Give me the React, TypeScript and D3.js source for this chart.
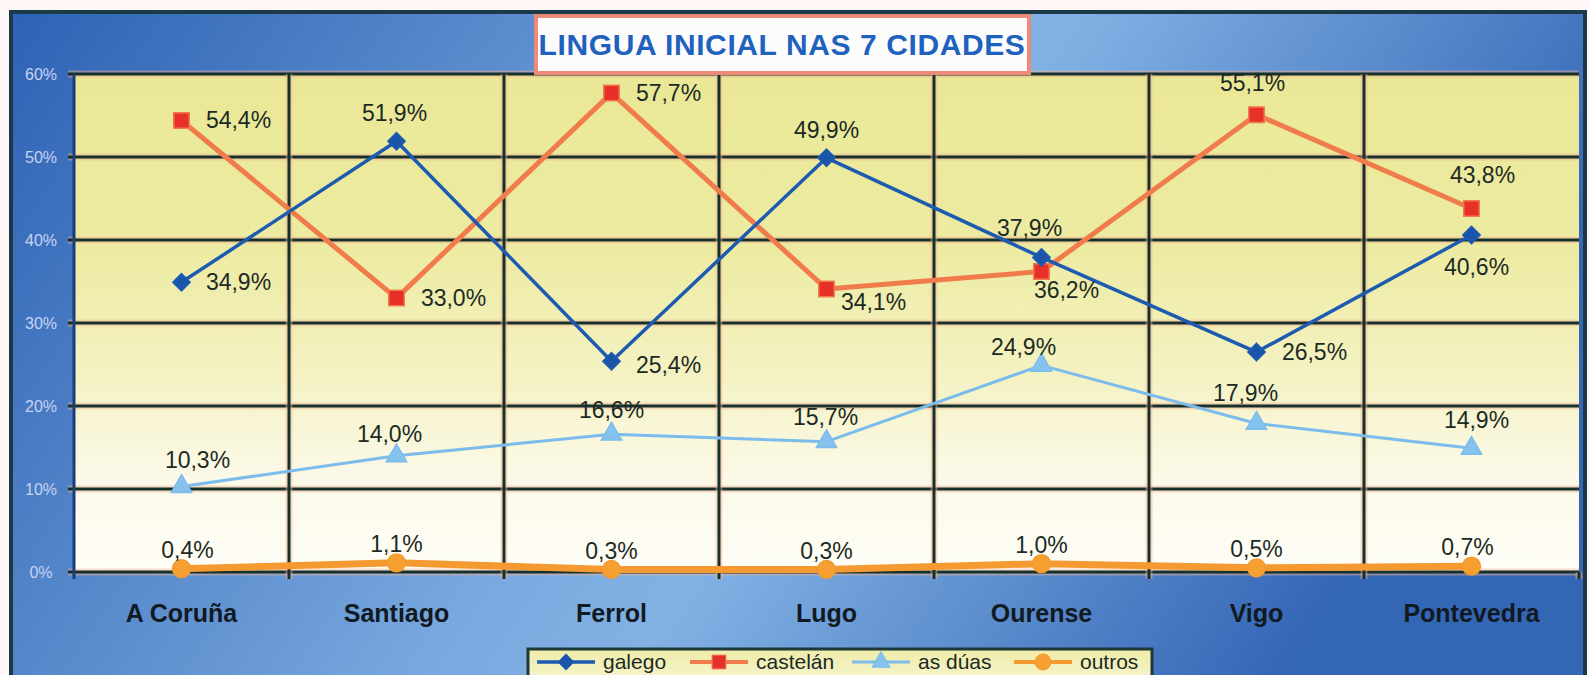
import * as d3 from 'd3'
import { useRef, useEffect } from 'react'

const W = 1590, H = 675
const M = { top: 74, right: 11, bottom: 103, left: 74 }

const CITIES = ['A Coruña', 'Santiago', 'Ferrol', 'Lugo', 'Ourense', 'Vigo', 'Pontevedra']
const Y_TICKS = [0, 10, 20, 30, 40, 50, 60]

const GALEGO = [34.9, 51.9, 25.4, 49.9, 37.9, 26.5, 40.6]
const CASTELAN = [54.4, 33.0, 57.7, 34.1, 36.2, 55.1, 43.8]
const AS_DUAS = [10.3, 14.0, 16.6, 15.7, 24.9, 17.9, 14.9]
const OUTROS = [0.4, 1.1, 0.3, 0.3, 1.0, 0.5, 0.7]

// label nudges (label centre relative to the point), as placed in the original
const GALEGO_LBL = [[57, 0], [-2, -28], [57, 4], [0, -28], [-12, -29], [58, 0], [5, 32]]
const CASTELAN_LBL = [[57, 0], [57, 0], [57, 0], [47, 13], [25, 18], [-4, -32], [11, -33]]
const AS_DUAS_LBL = [[16, -27], [-7, -22], [0, -24], [-1, -25], [-18, -18], [-11, -30], [5, -28]]
const OUTROS_LBL = [[6, -19], [0, -19], [0, -19], [0, -19], [0, -19], [0, -19], [-4, -19]]

const SERIES = [
  { name: 'castelán', values: CASTELAN, labels: CASTELAN_LBL, line: '#f07c4c', fill: '#e8302a', width: 5, symbol: d3.symbolSquare, size: 240, rot: 0 },
  { name: 'galego', values: GALEGO, labels: GALEGO_LBL, line: '#1c5bb0', fill: '#1a55aa', width: 3.5, symbol: d3.symbolSquare, size: 150, rot: 45 },
  { name: 'as dúas', values: AS_DUAS, labels: AS_DUAS_LBL, line: '#7cbcec', fill: '#86c2ee', width: 3, symbol: d3.symbolTriangle, size: 180, rot: 0 },
  { name: 'outros', values: OUTROS, labels: OUTROS_LBL, line: '#f49a30', fill: '#f5a030', width: 7, symbol: d3.symbolCircle, size: 250, rot: 0 },
]
const LEGEND_ORDER = ['galego', 'castelán', 'as dúas', 'outros']

const fmt = (v: number) => v.toFixed(1).replace('.', ',') + '%'

export default function App() {
  const svgRef = useRef<SVGSVGElement>(null)

  useEffect(() => {
    const svg = d3.select(svgRef.current)
    svg.selectAll('*').remove()

    const x = d3.scaleBand<string>().domain(CITIES).range([M.left, W - M.right])
    const xc = (c: string) => (x(c) as number) + x.bandwidth() / 2
    const y = d3.scaleLinear().domain([0, 60]).range([H - M.bottom, M.top])
    const [x0, x1] = x.range()
    const [yb, yt] = y.range()

    const defs = svg.append('defs')
    const bg = defs.append('linearGradient').attr('id', 'bg').attr('x1', 0).attr('x2', 1).attr('y1', 0).attr('y2', 0.3)
    bg.append('stop').attr('offset', 0).attr('stop-color', '#2e62b4')
    bg.append('stop').attr('offset', 0.5).attr('stop-color', '#78a8de')
    bg.append('stop').attr('offset', 0.62).attr('stop-color', '#82b2e4')
    bg.append('stop').attr('offset', 1).attr('stop-color', '#3466b6')
    const pg = defs.append('linearGradient').attr('id', 'plotbg').attr('x1', 0).attr('x2', 0).attr('y1', 0).attr('y2', 1)
    pg.append('stop').attr('offset', 0).attr('stop-color', '#eae896')
    pg.append('stop').attr('offset', 0.35).attr('stop-color', '#edeba2')
    pg.append('stop').attr('offset', 0.6).attr('stop-color', '#f4f2c2')
    pg.append('stop').attr('offset', 0.8).attr('stop-color', '#fbf9e6')
    pg.append('stop').attr('offset', 1).attr('stop-color', '#fffef8')
    const lg = defs.append('linearGradient').attr('id', 'legbg').attr('x1', 0).attr('x2', 0).attr('y1', 0).attr('y2', 1)
    lg.append('stop').attr('offset', 0).attr('stop-color', '#efeca8')
    lg.append('stop').attr('offset', 1).attr('stop-color', '#f8f6d8')

    // page + frame
    svg.append('rect').attr('width', W).attr('height', H).attr('fill', '#fff8f6')
    svg.append('rect').attr('x', 11).attr('y', 12).attr('width', 1574).attr('height', 700)
      .attr('fill', 'url(#bg)').attr('stroke', '#1b3a48').attr('stroke-width', 4)

    // plot area
    svg.append('rect').attr('x', x0).attr('y', yt).attr('width', x1 - x0).attr('height', yb - yt).attr('fill', 'url(#plotbg)')

    const grid = svg.append('g')
    const gline = (a: number, b: number, c: number, d: number) => {
      grid.append('line').attr('x1', a).attr('y1', b).attr('x2', c).attr('y2', d)
        .attr('stroke', '#f2b494').attr('stroke-width', 7).attr('opacity', 0.45)
      grid.append('line').attr('x1', a).attr('y1', b).attr('x2', c).attr('y2', d)
        .attr('stroke', '#16302c').attr('stroke-width', 3)
    }
    Y_TICKS.forEach((t) => gline(x0 - 6, y(t), x1, y(t)))
    CITIES.slice(1).forEach((c) => gline(x(c) as number, yt, x(c) as number, yb + 7))
    gline(x1, yb, x1, yb + 7)
    grid.append('line').attr('x1', x0).attr('x2', x0).attr('y1', yt).attr('y2', yb + 7)
      .attr('stroke', '#1a3c7a').attr('stroke-width', 3)

    // y labels
    svg.append('g').selectAll('text').data(Y_TICKS).join('text')
      .attr('x', 41).attr('y', (d) => y(d) + 6).attr('text-anchor', 'middle')
      .attr('font-family', 'Liberation Sans, Arial, sans-serif').attr('font-size', 16)
      .attr('fill', '#c6d2f2').text((d) => `${d}%`)

    // x labels
    svg.append('g').selectAll('text').data(CITIES).join('text')
      .attr('x', (d) => xc(d)).attr('y', 622).attr('text-anchor', 'middle')
      .attr('font-family', 'Liberation Sans, Arial, sans-serif').attr('font-size', 25).attr('font-weight', 'bold')
      .attr('fill', '#111a22').text((d) => d)

    // series
    SERIES.forEach((s) => {
      const pts = s.values.map((v, i) => [xc(CITIES[i]), y(v)] as [number, number])
      svg.append('path').datum(pts).attr('fill', 'none').attr('stroke', s.line)
        .attr('stroke-width', s.width).attr('stroke-linejoin', 'round').attr('d', d3.line())
      svg.append('g').selectAll('path').data(pts).join('path')
        .attr('transform', (p) => `translate(${p[0]},${p[1]}) rotate(${s.rot})`)
        .attr('d', d3.symbol().type(s.symbol).size(s.size)())
        .attr('fill', s.fill).attr('stroke', s.line).attr('stroke-width', 1.5)
    })
    SERIES.forEach((s) => {
      svg.append('g').selectAll('text').data(s.values).join('text')
        .attr('x', (v, i) => xc(CITIES[i]) + s.labels[i][0])
        .attr('y', (v, i) => y(v) + s.labels[i][1] + 8)
        .attr('text-anchor', 'middle')
        .attr('font-family', 'Liberation Sans, Arial, sans-serif').attr('font-size', 23)
        .attr('fill', '#1c2a24').text((v) => fmt(v))
    })

    // title
    svg.append('rect').attr('x', 536).attr('y', 16).attr('width', 493).attr('height', 57)
      .attr('fill', '#fdfcfd').attr('stroke', '#ee8a78').attr('stroke-width', 4)
    svg.append('text').attr('x', 782).attr('y', 55).attr('text-anchor', 'middle')
      .attr('font-family', 'Liberation Sans, Arial, sans-serif').attr('font-size', 30).attr('font-weight', 'bold')
      .attr('letter-spacing', 0.6).attr('fill', '#1f62bd').text('LINGUA INICIAL NAS 7 CIDADES')

    // legend
    const leg = svg.append('g')
    leg.append('rect').attr('x', 528).attr('y', 649).attr('width', 624).attr('height', 40)
      .attr('fill', 'url(#legbg)').attr('stroke', '#1d3838').attr('stroke-width', 3)
    const legX = [537, 690, 852, 1014]
    LEGEND_ORDER.forEach((name, i) => {
      const s = SERIES.find((d) => d.name === name)!
      const lx = legX[i], ly = 662
      leg.append('line').attr('x1', lx).attr('x2', lx + 58).attr('y1', ly).attr('y2', ly)
        .attr('stroke', s.line).attr('stroke-width', Math.min(s.width, 4))
      leg.append('path').attr('transform', `translate(${lx + 29},${ly}) rotate(${s.rot})`)
        .attr('d', d3.symbol().type(s.symbol).size(s.size * 0.8)())
        .attr('fill', s.fill).attr('stroke', s.line)
      leg.append('text').attr('x', lx + 66).attr('y', ly + 7)
        .attr('font-family', 'Liberation Sans, Arial, sans-serif').attr('font-size', 21)
        .attr('fill', '#1c2a24').text(name)
    })
  }, [])

  return (
    <svg ref={svgRef} width={W} height={H} viewBox={`0 0 ${W} ${H}`}
      style={{ position: 'absolute', left: 0, top: 0, display: 'block' }} />
  )
}
